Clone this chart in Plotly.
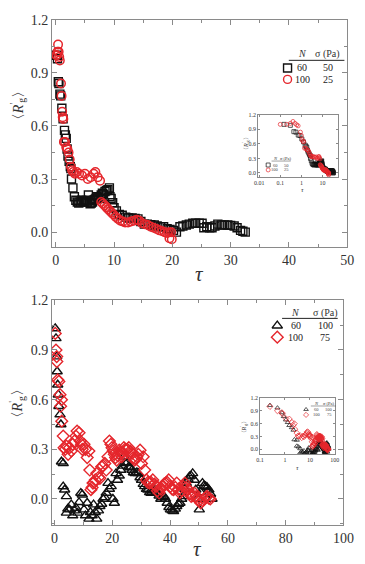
import plotly.graph_objects as go

# ---------------- data ----------------
# Top panel: N=60, sigma=50 Pa (black squares)
tau_a = [0.15, 0.30, 0.44, 0.55, 0.71, 0.85, 1.05, 1.26, 1.50, 1.65, 1.80, 1.95, 2.10, 2.30, 2.50,
         2.60, 2.70, 2.95, 3.20, 3.45, 3.70, 3.95, 4.20, 4.45, 4.70, 4.95, 5.20, 5.40, 5.60, 5.90,
         6.10, 6.30, 6.50, 6.70, 6.90, 7.10, 7.30, 7.60, 7.80, 8.00, 8.20, 8.45, 8.70, 8.95, 9.20,
         9.30, 9.50, 9.76, 10.0, 10.4, 10.9, 11.4, 12.0, 12.5, 13.1, 13.6, 14.1, 14.6, 15.2, 15.7,
         16.3, 16.9, 17.4, 18.0, 18.5, 19.1, 19.6, 20.2, 20.7, 21.3, 21.8, 22.4, 22.9, 23.5, 24.0,
         24.6, 25.1, 25.4, 25.9, 26.4, 26.8, 27.3, 27.8, 28.4, 28.9, 29.5, 30.0, 30.6, 31.1, 31.7,
         32.1, 32.5]
rg_a = [1.00, 0.98, 0.85, 0.84, 0.78, 0.77, 0.70, 0.64, 0.575, 0.55, 0.53, 0.47, 0.43, 0.40, 0.37,
        0.36, 0.30, 0.25, 0.20, 0.18, 0.17, 0.165, 0.17, 0.18, 0.175, 0.17, 0.18, 0.17, 0.21, 0.16,
        0.165, 0.17, 0.18, 0.185, 0.19, 0.20, 0.195, 0.19, 0.21, 0.22, 0.215, 0.23, 0.235, 0.24, 0.25,
        0.20, 0.19, 0.166, 0.138, 0.12, 0.10, 0.095, 0.085, 0.08, 0.08, 0.078, 0.075, 0.06, 0.045, 0.045,
        0.042, 0.04, 0.035, 0.03, 0.03, 0.02, 0.015, 0.01, 0.0, 0.03, 0.035, 0.04, 0.045, 0.05, 0.05,
        0.05, 0.05, 0.025, 0.03, 0.025, 0.025, 0.035, 0.045, 0.04, 0.04, 0.04, 0.038, 0.035, 0.025, 0.01,
        0.005, 0.0]

# Top panel: N=100, sigma=25 Pa (red circles)
tau_b = [0.10, 0.20, 0.30, 0.40, 0.50, 0.60, 0.70, 0.90, 1.00, 1.10, 1.20, 1.30, 1.40, 1.60, 1.80,
         2.00, 2.20, 2.40, 2.60, 2.80, 3.00, 3.30, 3.60, 4.00, 4.50, 5.00, 5.50, 6.00, 6.50, 6.80,
         7.20, 7.60, 7.80, 8.10, 8.40, 8.70, 9.00, 9.30, 9.60, 9.90, 10.3, 10.7, 11.1, 11.5, 11.9,
         12.4, 12.9, 13.4, 13.9, 14.3, 14.8, 15.3, 15.8, 16.3, 16.8, 17.3, 17.8, 18.3, 18.7, 19.1,
         19.4, 19.5, 19.8, 19.9]
rg_b = [1.00, 1.00, 1.02, 1.06, 1.02, 0.99, 0.97, 0.84, 0.77, 0.68, 0.65, 0.64, 0.51, 0.51, 0.48,
        0.47, 0.45, 0.41, 0.37, 0.35, 0.34, 0.33, 0.34, 0.33, 0.32, 0.33, 0.30, 0.31, 0.33, 0.34,
        0.31, 0.29, 0.17, 0.16, 0.15, 0.14, 0.13, 0.12, 0.11, 0.10, 0.085, 0.075, 0.065, 0.06, 0.055,
        0.055, 0.06, 0.065, 0.07, 0.065, 0.05, 0.045, 0.04, 0.03, 0.025, 0.018, 0.01, 0.005, 0.0, -0.005,
        0.0, -0.035, 0.0, -0.04]

# Bottom panel: N=60, sigma=100 Pa (black triangles)
tau_c = [0.25, 0.5, 0.75, 0.9, 1.1, 1.3, 1.5, 1.9, 2.2, 2.4, 3.0, 3.0, 3.5, 4.1, 4.1, 4.6, 5.2, 5.8,
         6.3, 6.9, 7.4, 8.0, 8.5, 9.1, 9.6, 10.2, 10.7, 11.3, 11.9, 12.4, 13.0, 13.5, 14.1, 14.6, 15.2,
         15.7, 16.3, 16.8, 17.4, 17.9, 18.5, 19.0, 19.6, 20.2, 20.7, 21.3, 21.8, 22.4, 22.9, 23.5, 24.0,
         24.6, 25.1, 25.7, 26.2, 26.8, 27.3, 27.9, 28.5, 29.0, 29.6, 30.1, 30.7, 31.2, 31.8, 32.3, 32.9,
         33.4, 34.0, 34.6, 35.1, 35.7, 36.2, 36.8, 37.3, 37.9, 38.4, 39.0, 39.6, 40.1, 40.7, 41.2, 41.8,
         42.3, 42.9, 43.4, 44.0, 44.5, 45.1, 45.6, 46.2, 46.7, 47.3, 47.8, 48.4, 48.9, 49.5, 50.1, 50.6,
         51.2, 51.7, 52.3, 52.8, 53.4, 54.0, 54.5]
rg_c = [1.03, 0.97, 0.86, 0.77, 0.69, 0.63, 0.56, 0.51, 0.45, 0.225, 0.215, 0.075, 0.056, 0.016, -0.084,
        -0.06, -0.064, -0.034, -0.10, -0.07, -0.054, -0.084, -0.02, 0.036, 0.026, -0.064, -0.10, -0.024,
        -0.12, -0.08, -0.10, -0.034, -0.08, -0.12, -0.07, -0.044, -0.03, 0.0, 0.01, 0.036, 0.096, 0.06,
        0.076, 0.0, -0.024, 0.155, 0.115, 0.14, 0.175, 0.20, 0.255, 0.215, 0.22, 0.195, 0.19, 0.175, 0.16,
        0.155, 0.16, 0.155, 0.13, 0.115, 0.09, 0.076, 0.06, 0.056, 0.04, 0.036, 0.05, 0.056, 0.04, 0.036,
        0.02, 0.0, 0.01, 0.016, 0.0, -0.024, -0.05, -0.064, -0.07, -0.074, -0.06, -0.044, -0.03, -0.024,
        0.0, 0.016, 0.06, 0.096, 0.12, 0.135, 0.14, 0.155, 0.115, 0.056, 0.0, -0.064, 0.04, 0.096, 0.08,
        0.076, 0.07, 0.056, 0.03, 0.0]

# Bottom panel: N=100, sigma=75 Pa (red diamonds)
tau_d = [0.25, 0.5, 0.75, 0.8, 1.1, 1.5, 1.9, 2.1, 2.4, 2.5, 3.0, 3.3, 3.7, 4.1, 4.7, 5.2, 5.8, 6.3,
         6.9, 7.4, 7.8, 8.5, 8.9, 9.3, 9.6, 10.2, 10.7, 11.3, 11.9, 12.2, 12.6, 13.0, 13.3, 13.7, 14.1,
         14.6, 15.2, 15.7, 16.3, 16.8, 17.4, 17.9, 18.5, 19.0, 19.5, 19.9, 20.3, 20.7, 21.1, 21.5, 22.0,
         22.4, 22.9, 23.3, 23.7, 24.0, 24.4, 24.8, 25.2, 25.7, 26.2, 26.8, 27.2, 27.7, 28.1, 28.5, 29.0,
         29.6, 30.1, 30.7, 31.2, 31.8, 32.3, 32.9, 33.4, 34.0, 34.6, 35.1, 35.6, 36.2, 36.8, 37.3, 37.9,
         38.4, 39.0, 39.5, 40.1, 40.7, 41.2, 41.8, 42.3, 42.9, 43.4, 44.0, 44.5, 45.1, 45.6, 46.2, 46.7,
         47.3, 47.9, 48.4, 49.0, 49.5, 50.0, 50.6, 51.2, 51.7, 52.3, 52.8, 53.4, 53.9]
rg_d = [1.00, 0.90, 0.86, 0.83, 0.72, 0.71, 0.63, 0.56, 0.60, 0.47, 0.38, 0.31, 0.30, 0.32, 0.27, 0.31,
        0.29, 0.33, 0.35, 0.38, 0.41, 0.40, 0.35, 0.33, 0.30, 0.33, 0.30, 0.25, 0.29, 0.175, 0.056, 0.07,
        0.096, 0.10, 0.115, 0.155, 0.13, 0.125, 0.195, 0.20, 0.215, 0.175, 0.255, 0.35, 0.33, 0.31, 0.29,
        0.27, 0.25, 0.235, 0.26, 0.295, 0.28, 0.255, 0.28, 0.31, 0.30, 0.295, 0.30, 0.31, 0.29, 0.275,
        0.25, 0.235, 0.24, 0.255, 0.27, 0.295, 0.215, 0.255, 0.175, 0.115, 0.10, 0.096, 0.10, 0.115, 0.09,
        0.076, 0.05, 0.036, 0.06, 0.076, 0.09, 0.096, 0.10, 0.115, 0.076, 0.06, 0.056, 0.07, 0.096, 0.06,
        0.036, 0.05, 0.076, 0.096, 0.07, 0.056, 0.03, 0.016, 0.02, 0.036, 0.015, 0.0, -0.01, -0.024,
        -0.01, 0.0, 0.01, 0.016, 0.005, 0.0]

legend_top = {"header": ["N", "σ (Pa)"], "rows": [["60", "50"], ["100", "25"]]}
legend_bot = {"header": ["N", "σ (Pa)"], "rows": [["60", "100"], ["100", "75"]]}

y_ticks = [0.0, 0.3, 0.6, 0.9, 1.2]
y_ticktext = ["0.0", "0.3", "0.6", "0.9", "1.2"]

# ---------------- styling ----------------
W, H = 365, 564
BLACK = "#111111"
RED = "#e5262c"
FRAME = "#8a8a8a"
TXT = "#333333"
SERIF = "Liberation Serif, Times New Roman, DejaVu Serif, serif"


def px_dom_x(a, b):
    return [a / W, b / W]


def px_dom_y(top, bottom):
    return [1 - bottom / H, 1 - top / H]


fig = go.Figure()


def add_series(xs, ys, sym, color, size, lw, xa, ya):
    fig.add_trace(go.Scatter(
        x=xs, y=ys, mode="markers", xaxis=xa, yaxis=ya, showlegend=False,
        marker=dict(symbol=sym, size=size, color=color, line=dict(width=lw, color=color)),
        cliponaxis=True, hoverinfo="skip"))


# main plots
add_series(tau_a, rg_a, "square-open", BLACK, 8, 1.4, "x", "y")
add_series(tau_b, rg_b, "circle-open", RED, 8.5, 1.5, "x", "y")
add_series(tau_c, rg_c, "triangle-up-open", BLACK, 9, 1.4, "x3", "y3")
add_series(tau_d, rg_d, "diamond-open", RED, 9, 1.4, "x3", "y3")
# insets (same data on log axis)
add_series(tau_a, rg_a, "square-open", BLACK, 4, 0.7, "x2", "y2")
add_series(tau_b, rg_b, "circle-open", RED, 4, 0.7, "x2", "y2")
add_series(tau_c, rg_c, "triangle-up-open", BLACK, 4.5, 0.7, "x4", "y4")
add_series(tau_d, rg_d, "diamond-open", RED, 4.5, 0.7, "x4", "y4")

axis_common = dict(showline=True, linecolor=FRAME, linewidth=1, mirror="ticks", ticks="inside",
                   tickcolor=FRAME, showgrid=False, zeroline=False,
                   tickfont=dict(family=SERIF, size=14, color=TXT))

fig.update_layout(
    xaxis=dict(domain=px_dom_x(50, 358), anchor="y", range=[-0.65, 50], tickvals=[0, 10, 20, 30, 40, 50],
               ticklen=5, minor=dict(ticks="inside", dtick=5, ticklen=3, tickcolor=FRAME), **axis_common),
    yaxis=dict(domain=px_dom_y(13, 243), anchor="x", range=[-0.084, 1.2], tickvals=y_ticks,
               ticktext=y_ticktext, ticklen=5,
               minor=dict(ticks="inside", dtick=0.15, ticklen=3, tickcolor=FRAME), **axis_common),
    xaxis3=dict(domain=px_dom_x(50, 354), anchor="y3", range=[-0.9, 100], tickvals=[0, 20, 40, 60, 80, 100],
                ticklen=5, minor=dict(ticks="inside", dtick=10, ticklen=3, tickcolor=FRAME), **axis_common),
    yaxis3=dict(domain=px_dom_y(297, 525), anchor="x3", range=[-0.16, 1.2], tickvals=y_ticks,
                ticktext=y_ticktext, ticklen=5,
                minor=dict(ticks="inside", dtick=0.15, ticklen=3, tickcolor=FRAME), **axis_common),
)

inset_common = dict(showline=True, linecolor=FRAME, linewidth=0.8, mirror="ticks", ticks="inside",
                    tickcolor=FRAME, ticklen=2, showgrid=False, zeroline=False,
                    tickfont=dict(family=SERIF, size=6, color=TXT))
fig.update_layout(
    xaxis2=dict(domain=px_dom_x(265, 348), anchor="y2", type="log", range=[-2.05, 1.72],
                tickvals=[0.01, 0.1, 1, 10], ticktext=["0.01", "0.1", "1", "10"], **inset_common),
    yaxis2=dict(domain=px_dom_y(109, 172), anchor="x2", range=[-0.08, 1.2], tickvals=y_ticks,
                ticktext=y_ticktext, **inset_common),
    xaxis4=dict(domain=px_dom_x(267, 345), anchor="y4", type="log", range=[-1, 2],
                tickvals=[0.1, 1, 10, 100], ticktext=["0.1", "1", "10", "100"], **inset_common),
    yaxis4=dict(domain=px_dom_y(396, 453), anchor="x4", range=[-0.12, 1.2], tickvals=y_ticks,
                ticktext=y_ticktext, **inset_common),
    xaxis5=dict(domain=[0, 1], anchor="y5", range=[0, W], visible=False),
    yaxis5=dict(domain=[0, 1], anchor="x5", range=[H, 0], visible=False),
)

annotations = []
shapes = []


def txt(x, y, s, size, italic=False, angle=0, color=TXT, xanchor="center"):
    if italic:
        s = "<i>" + s + "</i>"
    annotations.append(dict(x=x, y=y, xref="x5", yref="y5", text=s, showarrow=False,
                            font=dict(family=SERIF, size=size, color=color), textangle=angle,
                            xanchor=xanchor, yanchor="middle"))


def leg_marker(x, y, sym, color, size, lw):
    fig.add_trace(go.Scatter(x=[x], y=[y], xaxis="x5", yaxis="y5", mode="markers", showlegend=False,
                             marker=dict(symbol=sym, size=size, color=color, line=dict(width=lw, color=color)),
                             cliponaxis=False, hoverinfo="skip"))


ytitle = "〈<i>R</i><sup>'</sup><sub>g</sub>〉"

txt(14, 100, ytitle, 14, angle=-90)
txt(204, 270, "τ", 21, italic=True)
txt(14, 402, ytitle, 14, angle=-90)
txt(202, 549, "τ", 21, italic=True)
txt(252, 138, ytitle, 6, angle=-90)
txt(311, 185, "τ", 7, italic=True)
txt(250, 425, ytitle, 6, angle=-90)
txt(306, 467, "τ", 7, italic=True)


def main_legend(leg, x_mark, x_c1, x_c2, y_head, y_line, x_line0, x_line1, y_rows, syms, colors, msize):
    txt(x_c1, y_head, leg["header"][0], 10, italic=True)
    txt(x_c2, y_head, leg["header"][1], 10)
    shapes.append(dict(type="line", xref="x5", yref="y5", x0=x_line0, x1=x_line1, y0=y_line, y1=y_line,
                       line=dict(color="#222", width=1)))
    for (row, yr, sym, col) in zip(leg["rows"], y_rows, syms, colors):
        leg_marker(x_mark, yr, sym, col, msize, 1.4)
        txt(x_c1, yr, row[0], 10, color="#222")
        txt(x_c2, yr, row[1], 10, color="#222")


main_legend(legend_top, 295.7, 311, 337.5, 47.5, 54, 297, 355, [61.7, 73.3],
            ["square-open", "circle-open"], [BLACK, RED], 8)
main_legend(legend_bot, 285, 304, 335, 309.5, 315.3, 290, 348, [322.7, 334.3],
            ["triangle-up-open", "diamond-open"], [BLACK, RED], 9)


def inset_legend(leg, x_mark, x_c1, x_c2, y_head, y_line, x_line0, x_line1, y_rows, syms, colors):
    txt(x_c1, y_head, leg["header"][0], 4.5, italic=True)
    txt(x_c2, y_head, leg["header"][1], 4.5)
    shapes.append(dict(type="line", xref="x5", yref="y5", x0=x_line0, x1=x_line1, y0=y_line, y1=y_line,
                       line=dict(color="#444", width=0.5)))
    for (row, yr, sym, col) in zip(leg["rows"], y_rows, syms, colors):
        leg_marker(x_mark, yr, sym, col, 4, 0.7)
        txt(x_c1, yr, row[0], 4.5, color="#444")
        txt(x_c2, yr, row[1], 4.5, color="#444")


inset_legend(legend_top, 275.5, 283, 294.5, 153.5, 156, 279, 299, [160, 165],
             ["square-open", "circle-open"], [BLACK, RED])
inset_legend(legend_bot, 315, 326, 339, 401.5, 404, 320, 346, [407.5, 413],
             ["triangle-up-open", "diamond-open"], [BLACK, RED])

fig.update_layout(width=W, height=H, margin=dict(l=0, r=0, t=0, b=0),
                  paper_bgcolor="white", plot_bgcolor="rgba(0,0,0,0)",
                  annotations=annotations, shapes=shapes, showlegend=False)

fig.write_html("out.html")
